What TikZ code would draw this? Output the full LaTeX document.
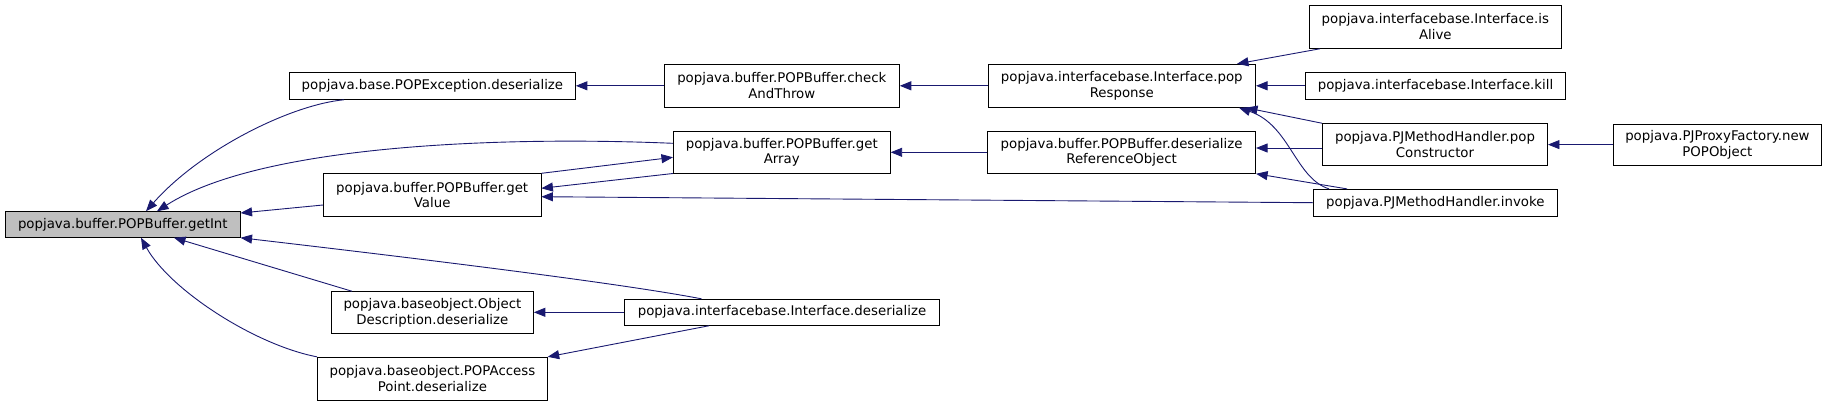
\documentclass[tikz,border=0pt]{standalone}
\usepackage{fontspec}
\setmainfont{DejaVu Sans}
\usetikzlibrary{arrows.meta}
\definecolor{edgeblue}{HTML}{191970}
\definecolor{hlgrey}{HTML}{BFBFBF}
\begin{document}
\begin{tikzpicture}[x=1pt,y=-1pt,
  box/.style={draw=black,line width=0.9pt,fill=white,inner sep=0pt,align=center,
    font=\fontsize{13.33}{15.7}\selectfont},
  focus/.style={box,fill=hlgrey},
  edge/.style={draw=edgeblue,line width=0.9pt,-{Triangle[length=11.5pt,width=9pt]}},
]
\useasboundingbox (0,0) rectangle (1827,405);
% column 1
\node[focus,minimum width=234.6pt,minimum height=25.6pt] (getInt) at (122.8,224.5) {popjava.buffer.POPBuffer.getInt};
% column 2
\node[box,minimum width=286pt,minimum height=26.6pt] (popExc) at (432.4,86) {popjava.base.POPException.deserialize};
\node[box,minimum width=217.5pt,minimum height=42.3pt] (getValue) at (432.2,194.9) {popjava.buffer.POPBuffer.get\\Value};
\node[box,minimum width=202pt,minimum height=41.6pt] (objDesc) at (432.4,312.5) {popjava.baseobject.Object\\Description.deserialize};
\node[box,minimum width=229.7pt,minimum height=43pt] (popAP) at (432.4,378.8) {popjava.baseobject.POPAccess\\Point.deserialize};
% column 3
\node[box,minimum width=235pt,minimum height=43pt] (chkThrow) at (781.8,85.8) {popjava.buffer.POPBuffer.check\\AndThrow};
\node[box,minimum width=216.8pt,minimum height=41.7pt] (getArray) at (781.8,152.2) {popjava.buffer.POPBuffer.get\\Array};
\node[box,minimum width=315pt,minimum height=26pt] (ifDeser) at (782,312.3) {popjava.interfacebase.Interface.deserialize};
% column 4
\node[box,minimum width=267.5pt,minimum height=43pt] (popResp) at (1121.8,85.8) {popjava.interfacebase.Interface.pop\\Response};
\node[box,minimum width=268pt,minimum height=42pt] (deserRef) at (1121.6,152.3) {popjava.buffer.POPBuffer.deserialize\\ReferenceObject};
% column 5
\node[box,minimum width=252pt,minimum height=43pt] (isAlive) at (1435.3,26.8) {popjava.interfacebase.Interface.is\\Alive};
\node[box,minimum width=260pt,minimum height=27pt] (kill) at (1435.5,85.8) {popjava.interfacebase.Interface.kill};
\node[box,minimum width=225pt,minimum height=41.6pt] (popCons) at (1435,144.5) {popjava.PJMethodHandler.pop\\Constructor};
\node[box,minimum width=244pt,minimum height=26.7pt] (invoke) at (1435.3,202.7) {popjava.PJMethodHandler.invoke};
% column 6
\node[box,minimum width=208.3pt,minimum height=41.3pt] (newPOP) at (1717.4,144.6) {popjava.PJProxyFactory.new\\POPObject};

% edges into getInt
\draw[edge] (344,0 |- popExc.south) .. controls (290,105) and (200,150) .. (146,0 |- getInt.north);
\draw[edge] (getArray.west |- 0,143.3) .. controls (500,136) and (260,145) .. (157,0 |- getInt.north);
\draw[edge] (getValue.west |- 0,205) -- (getInt.east |- 0,213);
\draw[edge] (701.6,0 |- ifDeser.north) .. controls (640,287) and (500,268) .. (getInt.south east);
\draw[edge] (352,0 |- objDesc.north) -- (174,0 |- getInt.south);
\draw[edge] (popAP.north west) .. controls (255,345) and (170,290) .. (141,0 |- getInt.south);
% column 2 targets
\draw[edge] (chkThrow.west) -- (popExc.east |- chkThrow.west);
\draw[edge] (getArray.south west) -- (getValue.east |- 0,188.3);
\draw[edge] (invoke.west) -- (getValue.east |- 0,196.7);
\draw[edge] (ifDeser.west) -- (objDesc.east |- ifDeser.west);
\draw[edge] (709,0 |- ifDeser.south) -- (popAP.north east);
% column 3 targets
\draw[edge] (getValue.north east) -- (getArray.west |- 0,157.3);
\draw[edge] (popResp.west) -- (chkThrow.east |- popResp.west);
\draw[edge] (deserRef.west) -- (getArray.east |- deserRef.west);
% column 4 targets
\draw[edge] (1320,0 |- isAlive.south) -- (1237,0 |- popResp.north);
\draw[edge] (kill.west) -- (popResp.east |- kill.west);
\draw[edge] (popCons.north west) -- (1246,0 |- popResp.south);
\draw[edge] (1329,0 |- invoke.north) .. controls (1295,178) and (1290,125) .. (1239,0 |- popResp.south);
\draw[edge] (popCons.west |- 0,148) -- (deserRef.east |- 0,148);
\draw[edge] (1347,0 |- invoke.north) -- (deserRef.south east);
% column 5 targets
\draw[edge] (newPOP.west) -- (popCons.east |- newPOP.west);
\end{tikzpicture}
\end{document}
